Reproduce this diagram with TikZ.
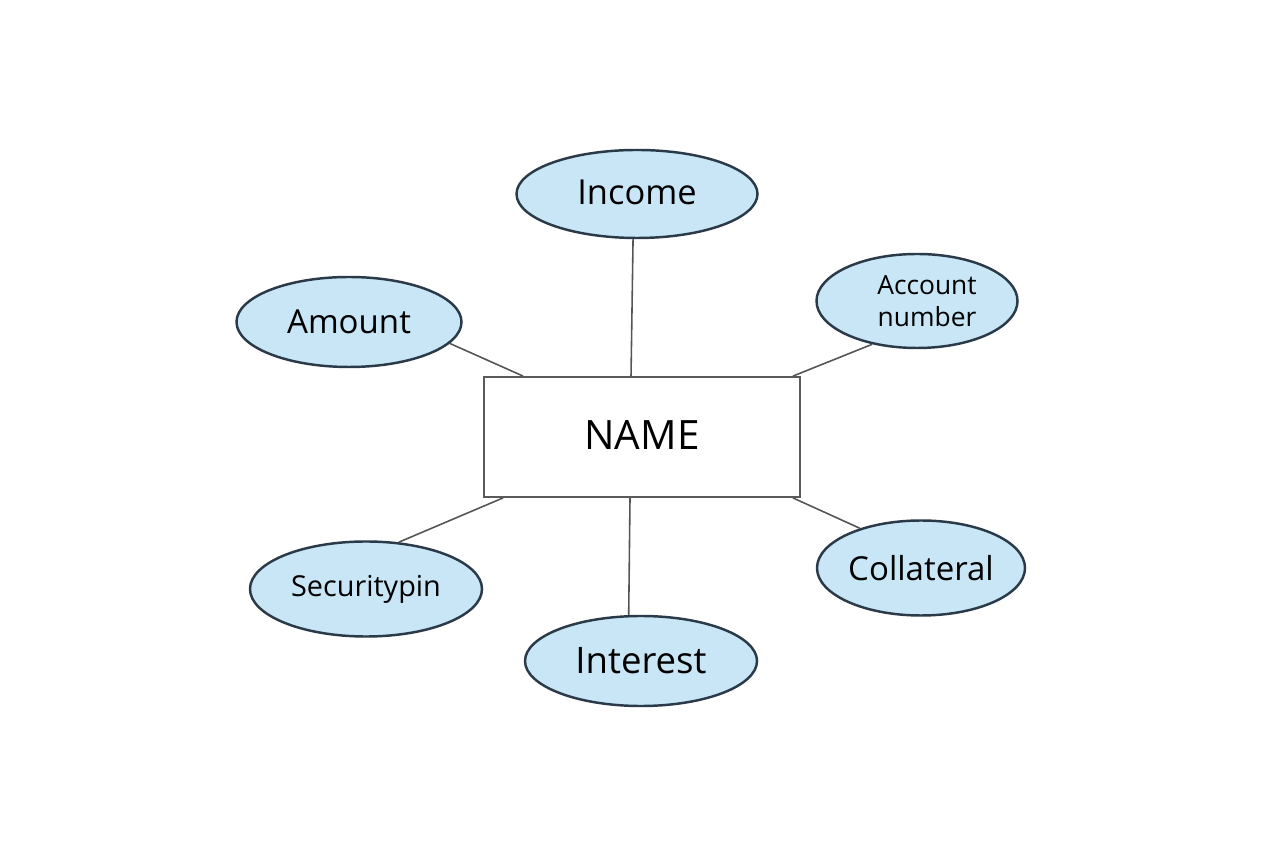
\documentclass[tikz,border=0pt]{standalone}
\usepackage{fontspec}
\setmainfont{Open Sans}
\usepackage{xcolor}
\usepackage{tikz}
\usetikzlibrary{shapes.geometric}
\definecolor{attrfill}{HTML}{C8E6F6}
\definecolor{attrline}{HTML}{2B3A48}
\definecolor{boxline}{HTML}{5A5A5A}
\definecolor{link}{HTML}{555555}
\tikzset{
  entity/.style={draw=boxline, line width=0.5pt, fill=white, inner sep=0pt,
    minimum width=3.16cm, minimum height=1.2cm, font=\fontsize{11.5}{13}\selectfont},
  attr/.style={ellipse, draw=attrline, line width=0.7pt, fill=attrfill, inner sep=0pt,
    font=\fontsize{9.4}{11}\selectfont, align=center},
  conn/.style={draw=link, line width=0.45pt}
}

\begin{document}
\begin{tikzpicture}
\useasboundingbox[fill=white] (0,0) rectangle (12.8,8.52);

% entity
\node[entity] (name) at (6.42,4.15) {\raisebox{0.04cm}{NAME}};

% attributes
\node[attr, minimum width=2.41cm, minimum height=0.88cm, font=\fontsize{9.8}{12}\selectfont] (income) at (6.37,6.58) {\raisebox{0.03cm}{Income}};
\node[attr, minimum width=2.25cm, minimum height=0.90cm] (amount) at (3.49,5.30) {Amount};
\node[attr, minimum width=2.01cm, minimum height=0.94cm, font=\fontsize{7.5}{9.2}\selectfont] (acct) at (9.17,5.51) {\hspace*{0.2cm}Account\\\hspace*{0.2cm}number};
\node[attr, minimum width=2.32cm, minimum height=0.95cm, font=\fontsize{8.2}{10}\selectfont] (secpin) at (3.66,2.63) {\raisebox{-0.03cm}{Securitypin}};
\node[attr, minimum width=2.32cm, minimum height=0.90cm, font=\fontsize{10.4}{12}\selectfont] (interest) at (6.41,1.91) {Interest};
\node[attr, minimum width=2.08cm, minimum height=0.95cm] (collat) at (9.21,2.84) {Collateral};

% links
\draw[conn] (income.-95) -- ([xshift=-0.11cm]name.north);
\draw[conn] (amount.-12) -- ([xshift=0.40cm]name.north west);
\draw[conn] (acct.-136) -- ([xshift=-0.08cm]name.north east);
\draw[conn] (secpin.55) -- ([xshift=0.20cm]name.south west);
\draw[conn] (interest.105) -- ([xshift=-0.12cm]name.south);
\draw[conn] (collat.147) -- ([xshift=-0.08cm]name.south east);
\end{tikzpicture}
\end{document}
